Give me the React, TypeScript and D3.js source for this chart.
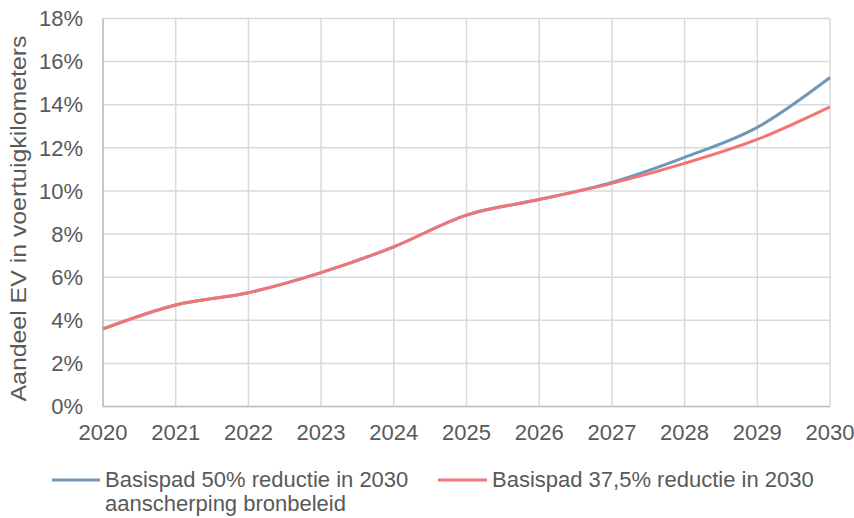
import React from "react";
import * as d3 from "d3";

const years = [2020, 2021, 2022, 2023, 2024, 2025, 2026, 2027, 2028, 2029, 2030];
const basis50 = [3.6, 4.71, 5.28, 6.21, 7.41, 8.88, 9.6, 10.4, 11.56, 12.95, 15.26];
const basis375 = [3.6, 4.71, 5.28, 6.21, 7.41, 8.88, 9.6, 10.35, 11.28, 12.39, 13.9];
const yTicks = [0, 2, 4, 6, 8, 10, 12, 14, 16, 18];
const seriesNames = ["Basispad 50% reductie in 2030", "aanscherping bronbeleid"];
const seriesName2 = "Basispad 37,5% reductie in 2030";
const yTitle = "Aandeel EV in voertuigkilometers";

const W = 854, H = 518;
const left = 103, right = 830, top = 18.5, bottom = 406.5;
const FONT = "'Liberation Sans', Arial, sans-serif";
const TXT = "#595959";
const BLUE = "#7097b8";
const RED = "#f37474";
const FS = 22;

export default function App() {
  const x = d3.scaleLinear().domain([2020, 2030]).range([left, right]);
  const y = d3.scaleLinear().domain([0, 18]).range([bottom, top]);
  const line = d3
    .line<number>()
    .x((_, i) => x(years[i]))
    .y((d) => y(d))
    .curve(d3.curveCatmullRom.alpha(0));

  return (
    <svg width={W} height={H} style={{ position: "absolute", left: 0, top: 0, background: "#fff" }}>
      <rect width={W} height={H} fill="#fff" />
      {yTicks.map((t) => (
        <line key={"gy" + t} x1={left} x2={right} y1={y(t)} y2={y(t)} stroke="#d9d9d9" strokeWidth={1.5} />
      ))}
      {years.map((t) => (
        <line key={"gx" + t} x1={x(t)} x2={x(t)} y1={top} y2={bottom} stroke="#d9d9d9" strokeWidth={1.5} />
      ))}
      <line x1={left} x2={left} y1={top} y2={bottom} stroke="#bfbfbf" strokeWidth={1.5} />
      <line x1={left} x2={right} y1={bottom} y2={bottom} stroke="#bfbfbf" strokeWidth={1.5} />
      {yTicks.map((t) => (
        <text key={"ty" + t} x={83} y={y(t)} dy="0.35em" textAnchor="end" fontFamily={FONT} fontSize={FS} fill={TXT}>
          {t}%
        </text>
      ))}
      {years.map((t) => (
        <text key={"tx" + t} x={x(t)} y={440} textAnchor="middle" fontFamily={FONT} fontSize={FS} fill={TXT}>
          {t}
        </text>
      ))}
      <text
        transform={`translate(26, 218.5) rotate(-90)`}
        textAnchor="middle"
        fontFamily={FONT}
        fontSize={FS}
        fill={TXT}
        textLength={366}
        lengthAdjust="spacingAndGlyphs"
      >
        {yTitle}
      </text>
      <path d={line(basis50) || ""} fill="none" stroke={BLUE} strokeWidth={3} />
      <path d={line(basis375) || ""} fill="none" stroke={RED} strokeWidth={3} />
      <line x1={52} x2={100} y1={480} y2={480} stroke={BLUE} strokeWidth={3} />
      <text x={105} y={487} fontFamily={FONT} fontSize={FS} fill={TXT}>{seriesNames[0]}</text>
      <text x={105} y={511} fontFamily={FONT} fontSize={FS} fill={TXT}>{seriesNames[1]}</text>
      <line x1={438} x2={487} y1={480} y2={480} stroke={RED} strokeWidth={3} />
      <text x={492} y={487} fontFamily={FONT} fontSize={FS} fill={TXT}>{seriesName2}</text>
    </svg>
  );
}
